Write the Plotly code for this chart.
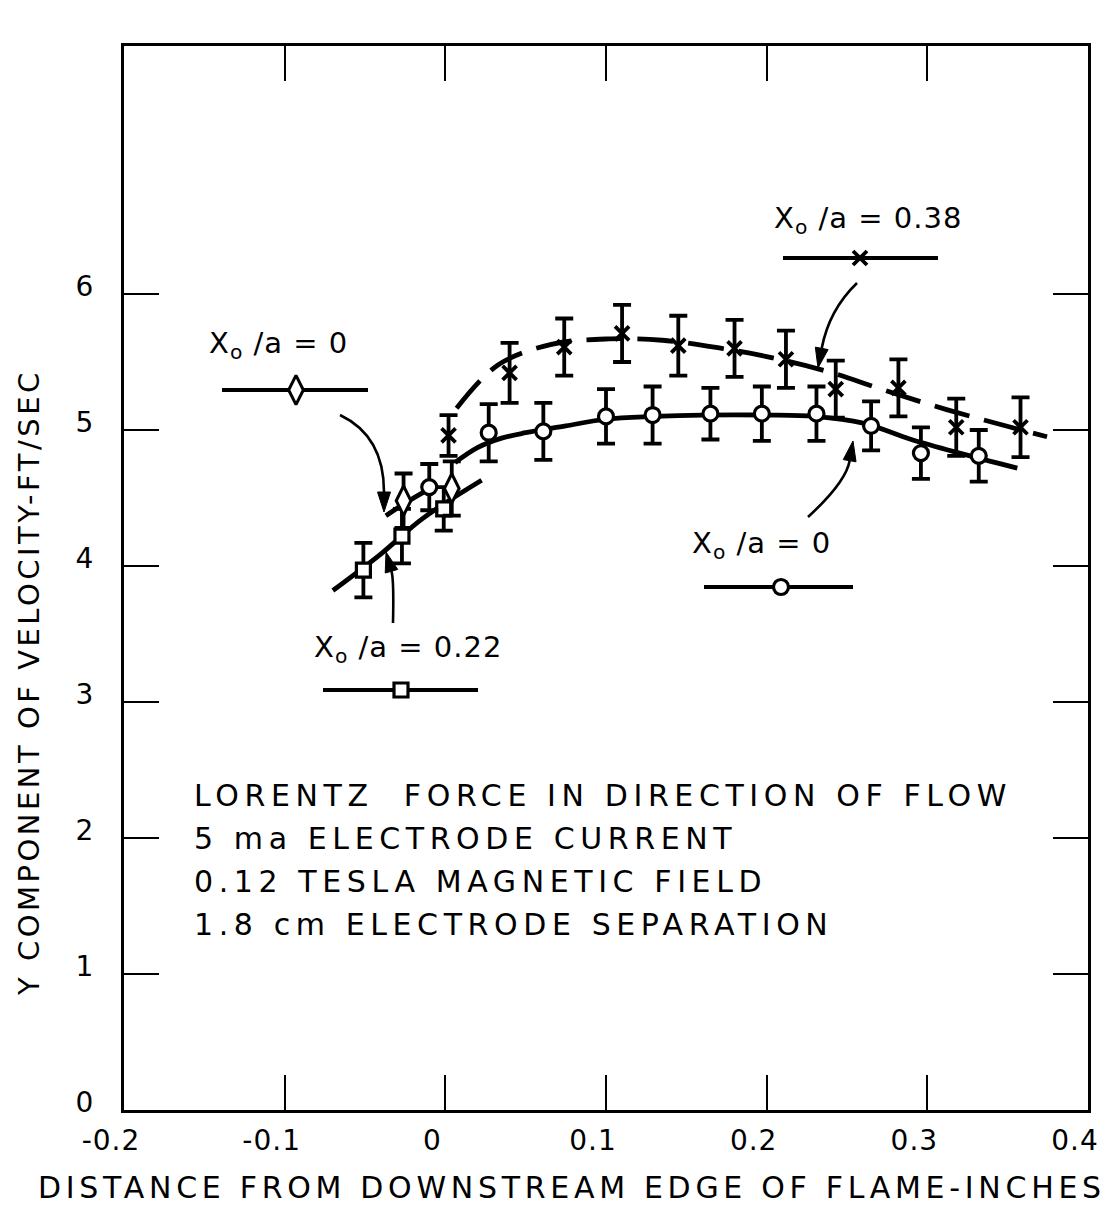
import math
import plotly.graph_objects as go

# ---------------- data ----------------
# open circles, X0/a = 0 (solid fitted curve)
circ_x = [-0.010, 0.027, 0.061, 0.100, 0.129, 0.165, 0.197, 0.231, 0.265, 0.296, 0.332]
circ_y = [4.58, 4.98, 4.99, 5.10, 5.11, 5.12, 5.12, 5.12, 5.03, 4.83, 4.81]
circ_err = [0.17, 0.21, 0.21, 0.20, 0.21, 0.19, 0.20, 0.20, 0.18, 0.19, 0.19]

# crosses, X0/a = 0.38 (dashed fitted curve)
x_x = [0.002, 0.040, 0.074, 0.110, 0.145, 0.180, 0.212, 0.243, 0.282, 0.318, 0.358]
x_y = [4.96, 5.42, 5.61, 5.71, 5.62, 5.60, 5.52, 5.30, 5.31, 5.02, 5.02]
x_err = [0.15, 0.22, 0.21, 0.21, 0.22, 0.21, 0.21, 0.21, 0.21, 0.21, 0.22]

# squares, X0/a = 0.22
sq_x = [-0.051, -0.027, -0.001]
sq_y = [3.97, 4.22, 4.42]
sq_err = [0.20, 0.20, 0.16]

# diamonds, X0/a = 0
dia_x = [-0.026, 0.004]
dia_y = [4.48, 4.57]
dia_err = [0.20, 0.20]

# hand-drawn fitted curves
circ_fit_x = [0.006, 0.020, 0.035, 0.050, 0.075, 0.100, 0.130, 0.160, 0.200, 0.230, 0.260, 0.290, 0.320, 0.356]
circ_fit_y = [4.76, 4.87, 4.94, 4.98, 5.03, 5.08, 5.10, 5.11, 5.11, 5.10, 5.05, 4.93, 4.83, 4.72]
x_fit_x = [0.007, 0.033, 0.066, 0.102, 0.135, 0.172, 0.200, 0.238, 0.274, 0.312, 0.352, 0.3745]
x_fit_y = [5.16, 5.48, 5.63, 5.67, 5.66, 5.60, 5.54, 5.43, 5.29, 5.15, 5.02, 4.95]
sq_fit_x = [-0.070, -0.040, -0.014, 0.0226]
sq_fit_y = [3.82, 4.09, 4.35, 4.63]
dia_fit_x = [-0.037, -0.024, -0.011]
dia_fit_y = [4.37, 4.47, 4.56]

x_ticks = [-0.2, -0.1, 0.0, 0.1, 0.2, 0.3, 0.4]
x_ticktext = ["-0.2", "-0.1", "0", "0.1", "0.2", "0.3", "0.4"]
y_ticks = [0, 1, 2, 3, 4, 5, 6]
y_ticktext = ["0", "1", "2", "3", "4", "5", "6"]

note_lines = ["LORENTZ  FORCE IN DIRECTION OF FLOW",
              "5 ma ELECTRODE CURRENT",
              "0.12 TESLA MAGNETIC FIELD",
              "1.8 cm ELECTRODE SEPARATION"]

# ---------------- layout geometry ----------------
W, H = 1119, 1211
L, R, T, B = 124, 1088, 46, 1110
PX_PER_Y = 136.0
X0, X1 = -0.2, 0.4
Y0, Y1 = 0.0, (B - T) / PX_PER_Y


def dx(p):
    return X0 + (p - L) / (R - L) * (X1 - X0)


def dy(p):
    return (B - p) / PX_PER_Y


def qx(p):
    return (p - L) / (R - L)


def qy(p):
    return (B - p) / (B - T)


FONT = "DejaVu Sans"


def sp(t, s):
    return f'<span style="letter-spacing:{s}px">{t}</span>'


fig = go.Figure()

LW = 4.8
for fx, fy, dash in [(circ_fit_x, circ_fit_y, "solid"),
                     (x_fit_x, x_fit_y, "36px,15px"),
                     (sq_fit_x, sq_fit_y, "solid"),
                     (dia_fit_x, dia_fit_y, "solid")]:
    fig.add_trace(go.Scatter(x=fx, y=fy, mode="lines", hoverinfo="skip",
                             line=dict(color="black", width=LW, dash=dash, shape="spline")))


def pts(x, y, e, symbol, size, fill="white", lw=3):
    return go.Scatter(
        x=x, y=y, mode="markers",
        error_y=dict(type="data", array=e, visible=True, color="black", thickness=3.8, width=9),
        marker=dict(symbol=symbol, size=size, color=fill, line=dict(color="black", width=lw)))


SYM = {
    "x": ("x-thin", 14, "black", 3.8),
    "d": ("diamond-tall", 21, "white", 3),
    "c": ("circle", 15, "white", 3.2),
    "s": ("square", 14, "white", 3.2),
}

fig.add_trace(pts(sq_x, sq_y, sq_err, *SYM["s"]))
fig.add_trace(pts(dia_x, dia_y, dia_err, *SYM["d"]))
fig.add_trace(pts(x_x, x_y, x_err, *SYM["x"]))
fig.add_trace(pts(circ_x, circ_y, circ_err, *SYM["c"]))

# ---------------- legend keys (drawn labels) ----------------
keys = [  # (x_left, x_right, y, marker_x, symbol key)
    (783, 938, 258, 860, "x"),
    (222, 368, 390, 296, "d"),
    (704, 853, 587, 781, "c"),
    (323, 478, 690, 401, "s"),
]
shapes = []
for xl, xr, yk, xm, k in keys:
    sym, sz, fill, lw = SYM[k]
    shapes.append(dict(type="line", xref="x", yref="y", x0=dx(xl), x1=dx(xr), y0=dy(yk), y1=dy(yk),
                       line=dict(color="black", width=3.8), layer="below"))
    fig.add_trace(go.Scatter(x=[dx(xm)], y=[dy(yk)], mode="markers", hoverinfo="skip",
                             marker=dict(symbol=sym, size=sz, color=fill, line=dict(color="black", width=lw))))

# curved arrows with filled heads
arrows = [  # tail, control, tip
    ((340, 415), (384, 436), (384, 512)),
    ((393, 623), (394, 580), (386, 552)),
    ((857, 283), (829, 310), (818, 368)),
    ((808, 517), (846, 482), (853, 441)),
]
HEAD_L, HEAD_W = 20, 6.5
for (tx, ty), (cx, cy), (ex, ey) in arrows:
    ux, uy = ex - cx, ey - cy
    n = math.hypot(ux, uy)
    ux, uy = ux / n, uy / n
    bx, by = ex - HEAD_L * ux, ey - HEAD_L * uy
    shapes.append(dict(type="path", xref="x", yref="y",
                       path=f"M {dx(tx)},{dy(ty)} Q {dx(cx)},{dy(cy)} {dx(bx)},{dy(by)}",
                       line=dict(color="black", width=2.6)))
    p1 = (bx - HEAD_W * uy, by + HEAD_W * ux)
    p2 = (bx + HEAD_W * uy, by - HEAD_W * ux)
    shapes.append(dict(type="path", xref="x", yref="y",
                       path=(f"M {dx(ex)},{dy(ey)} L {dx(p1[0])},{dy(p1[1])} "
                             f"L {dx(p2[0])},{dy(p2[1])} Z"),
                       fillcolor="black", line=dict(color="black", width=1)))

annotations = []
# series labels
labels = [("0.38", 772, 220), ("0", 207, 345), ("0", 690, 545), ("0.22", 312, 649)]
for val, lx, ly in labels:
    annotations.append(dict(x=qx(lx), y=qy(ly), xref="paper", yref="paper", xanchor="left",
                            yanchor="middle", showarrow=False,
                            text=sp(f"X<sub>o</sub> /a = {val}", 1),
                            font=dict(family=FONT, size=29, color="black")))

# condition notes
for i, line in enumerate(note_lines):
    annotations.append(dict(x=qx(192), y=qy(795 + 43 * i), xref="paper", yref="paper", xanchor="left",
                            yanchor="middle", showarrow=False, text=sp(line, 5.6),
                            font=dict(family=FONT, size=30, color="black")))

# axis titles
annotations.append(dict(x=qx(572), y=qy(1187), xref="paper", yref="paper", xanchor="center",
                        yanchor="middle", showarrow=False,
                        text=sp("DISTANCE FROM DOWNSTREAM EDGE OF FLAME-INCHES", 4.7),
                        font=dict(family=FONT, size=30, color="black")))
annotations.append(dict(x=qx(29), y=qy(683), xref="paper", yref="paper", xanchor="center",
                        yanchor="middle", showarrow=False, textangle=-90,
                        text=sp("Y COMPONENT OF VELOCITY-FT/SEC", 3.5),
                        font=dict(family=FONT, size=29, color="black")))

axis_common = dict(showgrid=False, zeroline=False, showline=True, linewidth=3, linecolor="black",
                   mirror="allticks", ticks="inside", ticklen=35, tickwidth=2, tickcolor="black")

fig.update_layout(
    width=W, height=H, margin=dict(l=L, r=W - R, t=T, b=H - B, pad=0),
    paper_bgcolor="white", plot_bgcolor="white", showlegend=False,
    font=dict(family=FONT, color="black"),
    xaxis=dict(range=[X0, X1], tickvals=x_ticks, ticktext=[sp(t, 1) for t in x_ticktext],
               tickfont=dict(family=FONT, size=28, color="black"), ticklabelstandoff=3,
               ticklabelshift=-13, **axis_common),
    yaxis=dict(range=[Y0, Y1], tickvals=y_ticks, ticktext=y_ticktext,
               tickfont=dict(family=FONT, size=28, color="black"), ticklabelstandoff=22,
               ticklabelshift=-8, **axis_common),
    shapes=shapes, annotations=annotations,
)

fig.write_html("out.html")
